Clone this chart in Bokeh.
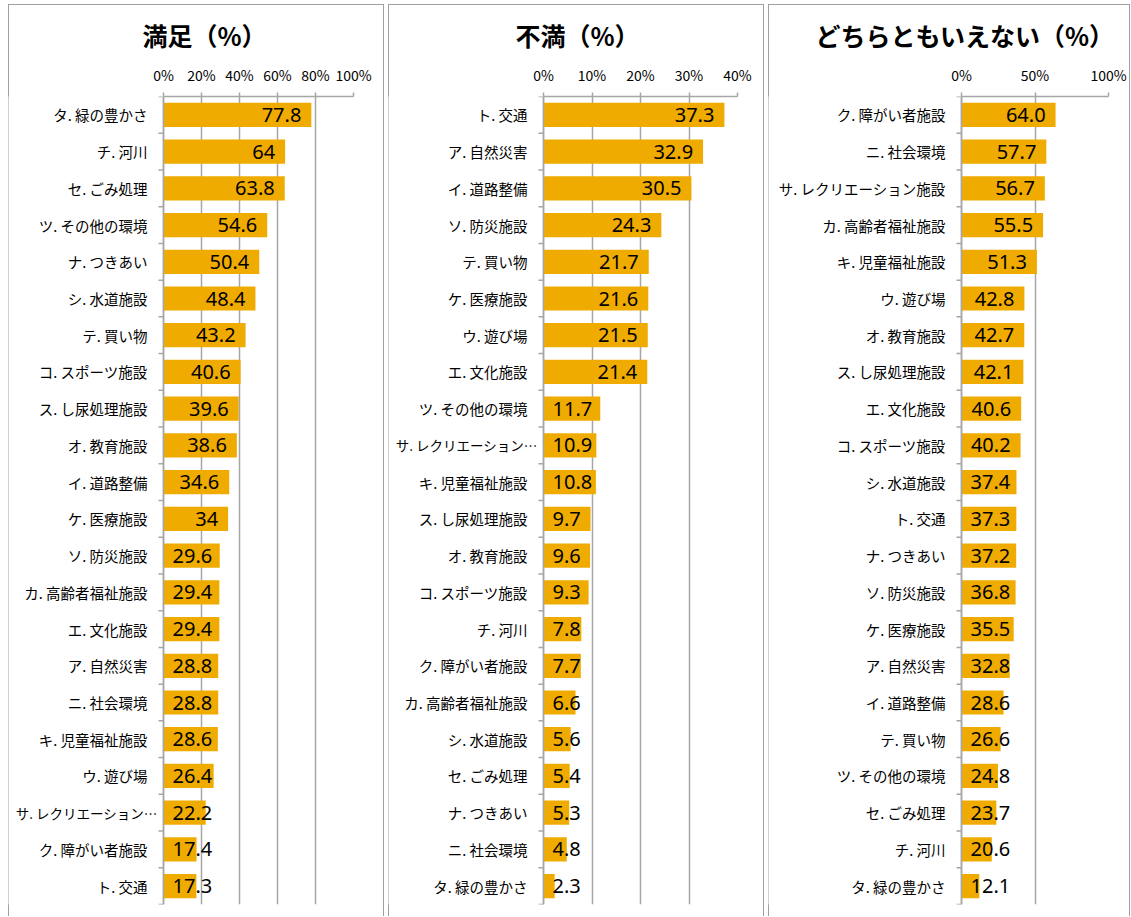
import math
from bokeh.plotting import figure
from bokeh.models import Range1d, FixedTicker, ColumnDataSource, Span, Spacer
from bokeh.layouts import row, column
from bokeh.embed import file_html
from bokeh.resources import INLINE
from bokeh.core.properties import value

# ---------------- data ----------------
title1 = "満足（%）"
cats1 = ["タ. 緑の豊かさ", "チ. 河川", "セ. ごみ処理", "ツ. その他の環境", "ナ. つきあい",
         "シ. 水道施設", "テ. 買い物", "コ. スポーツ施設", "ス. し尿処理施設", "オ. 教育施設",
         "イ. 道路整備", "ケ. 医療施設", "ソ. 防災施設", "カ. 高齢者福祉施設", "エ. 文化施設",
         "ア. 自然災害", "ニ. 社会環境", "キ. 児童福祉施設", "ウ. 遊び場",
         "サ. レクリエーション…", "ク. 障がい者施設", "ト. 交通"]
vals1 = [77.8, 64, 63.8, 54.6, 50.4, 48.4, 43.2, 40.6, 39.6, 38.6, 34.6, 34, 29.6,
         29.4, 29.4, 28.8, 28.8, 28.6, 26.4, 22.2, 17.4, 17.3]
labels1 = ["77.8", "64", "63.8", "54.6", "50.4", "48.4", "43.2", "40.6", "39.6", "38.6",
           "34.6", "34", "29.6", "29.4", "29.4", "28.8", "28.8", "28.6", "26.4", "22.2",
           "17.4", "17.3"]
ticks1 = [0, 20, 40, 60, 80, 100]
ticklabels1 = ["0%", "20%", "40%", "60%", "80%", "100%"]

title2 = "不満（%）"
cats2 = ["ト. 交通", "ア. 自然災害", "イ. 道路整備", "ソ. 防災施設", "テ. 買い物",
         "ケ. 医療施設", "ウ. 遊び場", "エ. 文化施設", "ツ. その他の環境",
         "サ. レクリエーション…", "キ. 児童福祉施設", "ス. し尿処理施設", "オ. 教育施設",
         "コ. スポーツ施設", "チ. 河川", "ク. 障がい者施設", "カ. 高齢者福祉施設",
         "シ. 水道施設", "セ. ごみ処理", "ナ. つきあい", "ニ. 社会環境", "タ. 緑の豊かさ"]
vals2 = [37.3, 32.9, 30.5, 24.3, 21.7, 21.6, 21.5, 21.4, 11.7, 10.9, 10.8, 9.7, 9.6,
         9.3, 7.8, 7.7, 6.6, 5.6, 5.4, 5.3, 4.8, 2.3]
labels2 = ["37.3", "32.9", "30.5", "24.3", "21.7", "21.6", "21.5", "21.4", "11.7", "10.9",
           "10.8", "9.7", "9.6", "9.3", "7.8", "7.7", "6.6", "5.6", "5.4", "5.3", "4.8", "2.3"]
ticks2 = [0, 10, 20, 30, 40]
ticklabels2 = ["0%", "10%", "20%", "30%", "40%"]

title3 = "どちらともいえない（%）"
cats3 = ["ク. 障がい者施設", "ニ. 社会環境", "サ. レクリエーション施設", "カ. 高齢者福祉施設",
         "キ. 児童福祉施設", "ウ. 遊び場", "オ. 教育施設", "ス. し尿処理施設", "エ. 文化施設",
         "コ. スポーツ施設", "シ. 水道施設", "ト. 交通", "ナ. つきあい", "ソ. 防災施設",
         "ケ. 医療施設", "ア. 自然災害", "イ. 道路整備", "テ. 買い物", "ツ. その他の環境",
         "セ. ごみ処理", "チ. 河川", "タ. 緑の豊かさ"]
vals3 = [64.0, 57.7, 56.7, 55.5, 51.3, 42.8, 42.7, 42.1, 40.6, 40.2, 37.4, 37.3, 37.2,
         36.8, 35.5, 32.8, 28.6, 26.6, 24.8, 23.7, 20.6, 12.1]
labels3 = ["64.0", "57.7", "56.7", "55.5", "51.3", "42.8", "42.7", "42.1", "40.6", "40.2",
           "37.4", "37.3", "37.2", "36.8", "35.5", "32.8", "28.6", "26.6", "24.8", "23.7",
           "20.6", "12.1"]
ticks3 = [0, 50, 100]
ticklabels3 = ["0%", "50%", "100%"]

# ---------------- style ----------------
BAR = "#F0AB00"
GRID = "#a6a6a6"
FRAME = "#a0a0a0"
HEIGHT = 912
TOP = 92
BOTTOM = 12
JP = "Noto Sans CJK JP"


def panel(title, cats, vals, labels, ticks, ticklabels, width, zero_px, right, title_left):
    n = len(cats)
    xmax = ticks[-1]
    frame_w = width - right
    ppu = (frame_w - zero_px) / xmax          # pixels per unit
    xmin = -zero_px / ppu                     # room for the category labels
    p = figure(width=width, height=HEIGHT, output_backend="svg", toolbar_location=None,
               x_range=Range1d(xmin, xmax), y_range=Range1d(n, 0),
               x_axis_location="above", y_axis_location=None,
               min_border_left=0, min_border_right=right, min_border_top=TOP,
               min_border_bottom=BOTTOM, outline_line_color=None,
               background_fill_color="white", border_fill_color=None)
    p.styles = {"box-shadow": f"inset 1px 0 0 {FRAME}, inset -1px 0 0 {FRAME}, inset 0 1px 0 {FRAME}",
                "background-color": "white"}

    ys = [i + 0.5 for i in range(n)]

    # grid + axis line + boundary ticks
    p.xgrid.ticker = FixedTicker(ticks=ticks)
    p.xgrid.grid_line_color = GRID
    p.xgrid.grid_line_width = 1.5
    p.ygrid.visible = False
    p.add_layout(Span(location=0, dimension="height", line_color=GRID, line_width=1.5))
    p.ray(x=[0] * (n + 1), y=list(range(n + 1)), length=5, length_units="screen",
          angle=math.pi, line_color=GRID, line_width=1.5)

    p.hbar(y=ys, left=0, right=vals, height=0.66, fill_color=BAR, line_color=None)

    # data labels: inside end, or from the base when they do not fit
    xs, aligns, offs = [], [], []
    for v, s in zip(vals, labels):
        tw = 11.4 * sum(c.isdigit() for c in s) + 5.4 * s.count(".")
        if v * ppu - 10 - tw >= 9:
            xs.append(v); aligns.append("right"); offs.append(-10)
        else:
            xs.append(0); aligns.append("left"); offs.append(9)
    src = ColumnDataSource(dict(x=xs, y=ys, t=labels, a=aligns, o=offs))
    p.text(x="x", y="y", text="t", source=src, text_align="a", x_offset="o",
           text_baseline="middle", text_font=value("Noto Sans"), text_font_size="20px",
           text_color="#000000")

    # category labels (left of the axis); truncated ones sit closer to the axis
    trunc = [c.endswith("…") for c in cats]
    csrc = ColumnDataSource(dict(
        x=[0] * n, y=ys, t=cats,
        o=[-6 if t else -16 for t in trunc],
        fs=["13.5px" if t else "14.5px" for t in trunc]))
    p.text(x="x", y="y", text="t", source=csrc, x_offset="o", text_align="right",
           text_baseline="middle", text_font=value(JP), text_font_size="fs",
           text_color="#000000")

    # x axis (top)
    xa = p.xaxis[0]
    xa.bounds = (0, xmax)
    xa.ticker = FixedTicker(ticks=ticks)
    xa.major_label_overrides = {t: l for t, l in zip(ticks, ticklabels)}
    xa.axis_line_color = GRID
    xa.axis_line_width = 1.5
    xa.major_tick_line_color = GRID
    xa.major_tick_line_width = 1.5
    xa.major_tick_out = 4
    xa.major_tick_in = 0
    xa.minor_tick_line_color = None
    xa.major_label_standoff = 8
    xa.major_label_text_font = JP
    xa.major_label_text_font_size = "14px"
    xa.major_label_text_color = "#000000"

    p.title.text = title
    p.title.align = "left"
    p.title.offset = title_left
    p.title.text_font = JP
    p.title.text_font_size = "25px"
    p.title.text_font_style = "bold"
    p.title.text_color = "#000000"
    p.title.standoff = 18
    return p


p1 = panel(title1, cats1, vals1, labels1, ticks1, ticklabels1, 376, 155, 31, 134)
p2 = panel(title2, cats2, vals2, labels2, ticks2, ticklabels2, 376, 155, 27, 127)
p3 = panel(title3, cats3, vals3, labels3, ticks3, ticklabels3, 362, 193, 22, 47)

layout = column(Spacer(height=0), row(Spacer(width=4), p1, p2, p3, spacing=4), spacing=4)
open("out.html", "w").write(file_html(layout, INLINE))
